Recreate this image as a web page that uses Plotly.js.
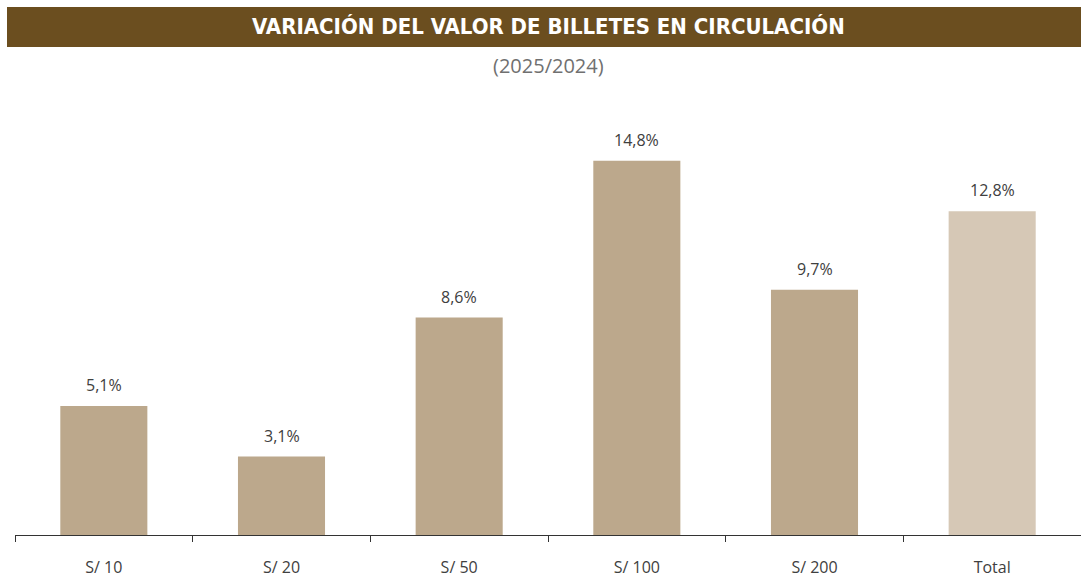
<!DOCTYPE html>
<html><head><meta charset="utf-8">
<script src="https://cdn.plot.ly/plotly-3.0.1.min.js"></script>
<style>body{margin:0;background:#fff}#chart{width:1081px;height:578px}</style>
</head><body><div id="chart"></div>
<script>
const categories = ["S/ 10", "S/ 20", "S/ 50", "S/ 100", "S/ 200", "Total"];
const values = [5.1, 3.1, 8.6, 14.8, 9.7, 12.8];
const labels = ["5,1%", "3,1%", "8,6%", "14,8%", "9,7%", "12,8%"];
const barColors = ["#BCA88C", "#BCA88C", "#BCA88C", "#BCA88C", "#BCA88C", "#D6C8B6"];

const W = 1081, H = 578, mL = 15, mR = 0, mT = 100, mB = 43;
const pw = W - mL - mR, ph = H - mT - mB;
const px = x => (x - mL) / pw;
const py = y => (H - mB - y) / ph;

const trace = {
  type: "bar", x: categories, y: values,
  marker: {color: barColors}, width: 0.49, hoverinfo: "none"
};

const valueLabels = categories.map((c, i) => ({
  x: c, y: values[i], xref: "x", yref: "y", text: labels[i], showarrow: false,
  yanchor: "middle", yshift: 21,
  font: {family: "Open Sans, sans-serif", size: 16, color: "#404040"}
}));

const layout = {
  width: W, height: H,
  margin: {l: mL, r: mR, t: mT, b: mB},
  paper_bgcolor: "#fff", plot_bgcolor: "#fff",
  showlegend: false,
  xaxis: {
    type: "category", showgrid: false, zeroline: false,
    showline: true, linecolor: "#333", linewidth: 1,
    ticks: "outside", tickson: "boundaries", ticklen: 6, tickcolor: "#333",
    ticklabelstandoff: 18,
    tickfont: {family: "Open Sans, sans-serif", size: 16, color: "#404040"},
    range: [-0.5, 5.5]
  },
  yaxis: {range: [0, 17.2], visible: false, showgrid: false, zeroline: false},
  shapes: [{
    type: "rect", xref: "paper", yref: "paper",
    x0: px(7), x1: px(1081), y0: py(47), y1: py(7),
    fillcolor: "#6B4E1F", line: {width: 0}
  }],
  annotations: [
    {xref: "paper", yref: "paper", x: px(548), y: py(27), showarrow: false,
     text: "<b>VARIACIÓN DEL VALOR DE BILLETES EN CIRCULACIÓN</b>",
     font: {family: "DejaVu Sans Condensed, sans-serif", size: 22, color: "#fff"},
     xanchor: "center", yanchor: "middle"},
    {xref: "paper", yref: "paper", x: px(548), y: py(66), showarrow: false,
     text: "(2025/2024)",
     font: {family: "Open Sans, sans-serif", size: 20, color: "#707070"},
     xanchor: "center", yanchor: "middle"}
  ].concat(valueLabels)
};

Plotly.newPlot("chart", [trace], layout, {displayModeBar: false, staticPlot: true});
</script></body></html>
